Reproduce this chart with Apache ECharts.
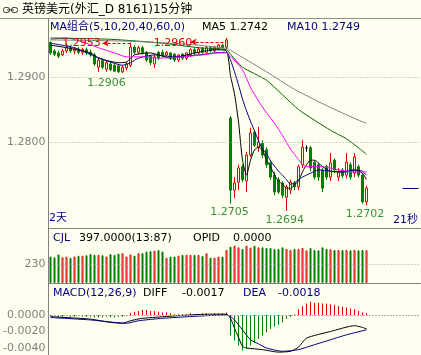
<!DOCTYPE html>
<html>
<head>
<meta charset="utf-8">
<title>英镑美元 15分钟</title>
<script src="https://cdn.jsdelivr.net/npm/echarts@6/dist/echarts.min.js"></script>
<style>
html, body { margin: 0; padding: 0; background: #fffff0; }
#main { width: 421px; height: 355px; }
</style>
</head>
<body>
<div id="main"></div>
<script>
// 15分钟K线, 共93个位置, 前80根有数据
var slotCount = 93;
var slots = [];
for (var s = 0; s < slotCount; s++) slots.push(String(s));

// [开, 收, 低, 高]
var candles = [
    [1.2953,1.2937,1.2934,1.2955],[1.2940,1.2935,1.2932,1.2943],[1.2937,1.2932,1.2929,1.2940],[1.2934,1.2940,1.2932,1.2943],
    [1.2940,1.2945,1.2937,1.2952],[1.2945,1.2940,1.2937,1.2948],[1.2940,1.2943,1.2935,1.2946],[1.2943,1.2938,1.2935,1.2946],
    [1.2938,1.2942,1.2934,1.2945],[1.2942,1.2937,1.2934,1.2945],[1.2938,1.2934,1.2931,1.2942],[1.2934,1.2920,1.2917,1.2937],
    [1.2915,1.2926,1.2908,1.2929],[1.2925,1.2915,1.2912,1.2928],[1.2912,1.2922,1.2908,1.2925],[1.2920,1.2911,1.2909,1.2923],
    [1.2918,1.2909,1.2908,1.2920],[1.2917,1.2908,1.2906,1.2920],[1.2908,1.2915,1.2906,1.2918],[1.2914,1.2920,1.2910,1.2923],
    [1.2918,1.2946,1.2915,1.2953],[1.2946,1.2938,1.2935,1.2949],[1.2938,1.2945,1.2935,1.2948],[1.2945,1.2937,1.2934,1.2948],
    [1.2938,1.2926,1.2923,1.2940],[1.2932,1.2922,1.2918,1.2934],[1.2920,1.2931,1.2914,1.2934],[1.2938,1.2929,1.2926,1.2940],
    [1.2938,1.2934,1.2931,1.2942],[1.2934,1.2938,1.2931,1.2940],[1.2937,1.2929,1.2926,1.2938],[1.2935,1.2926,1.2923,1.2937],
    [1.2926,1.2934,1.2923,1.2935],[1.2935,1.2929,1.2926,1.2937],[1.2929,1.2937,1.2926,1.2938],[1.2934,1.2942,1.2931,1.2944],
    [1.2942,1.2937,1.2934,1.2945],[1.2937,1.2943,1.2935,1.2946],[1.2944,1.2938,1.2936,1.2946],[1.2938,1.2945,1.2937,1.2948],
    [1.2945,1.2940,1.2938,1.2947],[1.2940,1.2946,1.2938,1.2948],[1.2943,1.2949,1.2941,1.2951],[1.2949,1.2945,1.2943,1.2951],
    [1.2946,1.2957,1.2943,1.2960],
    [1.2837,1.2726,1.2705,1.2840],[1.2726,1.2737,1.2714,1.2746],[1.2738,1.2760,1.2726,1.2765],[1.2762,1.2742,1.2738,1.2765],
    [1.2740,1.2780,1.2723,1.2785],[1.2780,1.2814,1.2777,1.2822],[1.2815,1.2795,1.2792,1.2818],[1.2792,1.2800,1.2785,1.2823],
    [1.2798,1.2780,1.2775,1.2803],[1.2788,1.2765,1.2760,1.2792],[1.2768,1.2746,1.2742,1.2772],[1.2749,1.2723,1.2718,1.2754],
    [1.2742,1.2723,1.2720,1.2746],[1.2737,1.2718,1.2714,1.2740],[1.2715,1.2731,1.2694,1.2734],[1.2726,1.2738,1.2720,1.2742],
    [1.2737,1.2731,1.2726,1.2740],[1.2731,1.2762,1.2726,1.2765],[1.2765,1.2792,1.2760,1.2803],[1.2791,1.2791,1.2785,1.2795],
    [1.2791,1.2760,1.2755,1.2794],[1.2769,1.2746,1.2742,1.2772],[1.2765,1.2746,1.2740,1.2768],[1.2757,1.2729,1.2723,1.2760],
    [1.2762,1.2746,1.2742,1.2765],[1.2746,1.2768,1.2740,1.2783],[1.2772,1.2757,1.2752,1.2775],[1.2746,1.2754,1.2740,1.2760],
    [1.2757,1.2748,1.2744,1.2760],[1.2749,1.2769,1.2744,1.2783],[1.2765,1.2746,1.2742,1.2769],[1.2752,1.2777,1.2746,1.2783],
    [1.2762,1.2749,1.2745,1.2765],[1.2749,1.2708,1.2705,1.2752],[1.2708,1.2729,1.2702,1.2732]
];

// 成交量 CJL
var volumes = [
    320,310,345,312,318,305,320,330,330,335,350,340,340,335,320,350,340,355,360,320,
    345,330,360,360,380,385,390,400,380,305,320,320,330,340,340,340,340,339,326,359,
    306,306,318,318,399,439,451,431,411,451,428,451,431,431,423,423,411,411,431,411,
    399,411,411,423,395,423,399,395,431,411,408,399,399,399,399,395,400,395,399,397
];

// 均线 [位置, 数值]
var ma5 = [[0,1.2949],[5,1.2944],[10,1.2937],[12,1.2929],[15,1.2924],[17,1.2922],[19,1.2923],[21,1.2934],[25,1.2937],
    [27,1.2934],[30,1.2929],[34,1.2934],[37,1.2938],[41,1.2942],[44,1.2940],[45,1.2902],[46,1.2874],[47,1.2831],
    [48,1.2772],[49,1.2749],[50,1.2772],[51,1.2788],[52,1.2792],[53,1.2788],[54,1.2772],[55,1.2762],[56,1.2749],
    [57,1.2740],[58,1.2735],[59,1.2729],[60,1.2729],[61,1.2734],[62,1.2740],[63,1.2754],[64,1.2765],[65,1.2772],
    [66,1.2772],[67,1.2768],[68,1.2762],[70,1.2755],[72,1.2754],[74,1.2754],[76,1.2757],[78,1.2752],[79,1.2742]];
var ma10 = [[0,1.2952],[6,1.2945],[11,1.2932],[15,1.2923],[18,1.2918],[20,1.2922],[22,1.2929],[26,1.2934],[31,1.2931],
    [37,1.2934],[41,1.2937],[44,1.2938],[45,1.2926],[46,1.2908],[47,1.2888],[48,1.2866],[49,1.2848],[50,1.2832],
    [51,1.2817],[52,1.2802],[53,1.2789],[54,1.2782],[55,1.2771],[56,1.2763],[57,1.2755],[58,1.2749],[59,1.2742],
    [60,1.2735],[61,1.2737],[62,1.2742],[63,1.2746],[65,1.2752],[67,1.2757],[70,1.2755],[73,1.2754],[76,1.2757],
    [78,1.2755],[79,1.2749]];
var ma20 = [[0,1.2958],[4,1.2960],[8,1.2954],[12,1.2945],[16,1.2937],[19,1.2931],[24,1.2931],[27,1.2929],[33,1.2931],
    [38,1.2934],[42,1.2937],[44,1.2937],[45,1.2932],[48,1.2911],[50,1.2884],[52,1.2863],[54,1.2845],[56,1.2829],
    [58,1.2810],[60,1.2789],[62,1.2773],[63,1.2765],[64,1.2762],[68,1.2762],[72,1.2757],[76,1.2754],[79,1.2754]];
var ma40 = [[0,1.2960],[15,1.2958],[28,1.2952],[37,1.2945],[44,1.2942],[45,1.2935],[48,1.2915],[54,1.2895],
    [62,1.2850],[70,1.2818],[74,1.2805],[77,1.2791],[79,1.2781]];
var ma60 = [[0,1.2957],[20,1.2955],[35,1.2950],[44,1.2944],[45,1.2941],[54,1.2908],[61,1.2881],[70,1.2853],
    [78,1.2831],[79,1.2829]];

// MACD(12,26,9)
var macdHist = [
    -0.0001,-0.0001,-0.0002,-0.0002,-0.0001,-0.0002,-0.0002,-0.0001,-0.0002,-0.0002,
    -0.0002,-0.0003,-0.0003,-0.0003,-0.0002,-0.0003,-0.0003,-0.0002,-0.0002,-0.0001,
    0.0002,0.0004,0.0005,0.0006,0.0006,0.0005,0.0005,0.0004,0.0003,0.0003,
    0.0002,0.0001,0.0001,0.0001,0.0001,0.0002,0.0001,0.0001,0.0002,0.0002,
    0.0001,0.0002,0.0002,0.0002,0.0003,
    -0.0025,-0.0031,-0.0037,-0.0043,-0.0041,-0.0037,-0.0033,-0.0029,-0.0025,-0.0021,
    -0.0017,-0.0014,-0.0012,-0.0009,-0.0005,-0.0002,0.0001,0.0007,0.0011,0.0014,
    0.0016,0.0015,0.0015,0.0014,0.0014,0.0013,0.0012,0.0011,0.0010,0.0009,
    0.0008,0.0007,0.0005,0.0003,0.0002
];
var diffLine = [[0,-0.0002],[10,-0.0005],[15,-0.0009],[18,-0.0010],[20,-0.0007],[23,-0.0004],[40,0.0001],[44,0.0001],
    [45,-0.0004],[46,-0.0016],[47,-0.0027],[48,-0.0038],[49,-0.0040],[53,-0.0042],[57,-0.0045],[60,-0.0044],
    [62,-0.0039],[64,-0.0028],[70,-0.0020],[76,-0.0013],[78,-0.0015],[79,-0.0017]];
var deaLine = [[0,-0.0003],[10,-0.0006],[16,-0.0009],[19,-0.0010],[22,-0.0007],[28,-0.0004],[44,0.0000],
    [45,-0.0002],[46,-0.0006],[48,-0.0018],[50,-0.0030],[52,-0.0035],[54,-0.0040],[58,-0.0044],[62,-0.0042],
    [66,-0.0036],[70,-0.0030],[74,-0.0024],[79,-0.0018]];

var priceTicks = [1.28, 1.29];
var volTicks = [230];
var macdTicks = [0, -0.002, -0.004];

// 高点标记: 位置, 价格, 虚线起点
var highMarks = [[20, 1.2953, 13], [44, 1.2960, 35]];
// 低点标记
var lowMarks = [[17, 1.2906], [45, 1.2705], [59, 1.2694], [79, 1.2702]];

var bg = '#fffff0';
var upColor = '#e00000';
var downColor = '#008000';
var font = '"DejaVu Sans", "Noto Sans CJK SC", sans-serif';

var myChart = echarts.init(document.getElementById('main'), null, { renderer: 'canvas' });

var highOffsets = [[-49, 1], [-53.5, 5.5]];
var highLineLevels = [1.2952, 1.2954];
var lowOffsets = [[-12, 10], [-1, 8.7], [-1.7, 9], [-1.4, 8.3]];

var markPointData = [];
highMarks.forEach(function (m, k) {
    markPointData.push({
        coord: [m[0], m[1]],
        label: { formatter: m[1].toFixed(4), color: upColor, offset: highOffsets[k] }
    });
});
lowMarks.forEach(function (m, k) {
    markPointData.push({
        coord: [m[0], m[1]],
        label: { formatter: m[1].toFixed(4), color: '#3a8f3a', offset: lowOffsets[k] }
    });
});

var lastClose = candles[candles.length - 1][1];
var candleLines = highMarks.map(function (m, k) {
    return [
        { coord: [m[2], highLineLevels[k]], symbol: 'arrow', symbolSize: [5, 6] },
        { coord: [m[0], highLineLevels[k]], symbol: 'none' }
    ];
});
candleLines.push([
    { coord: [88, lastClose], symbol: 'none', lineStyle: { color: '#000080', type: 'solid' } },
    { coord: [92, lastClose], symbol: 'none' }
]);

var volData = volumes.map(function (v, i) {
    var up = candles[i][1] >= candles[i][0];
    return { value: v, itemStyle: { color: up ? bg : downColor, borderColor: up ? upColor : downColor, borderWidth: 1 } };
});
var histData = macdHist.map(function (v) {
    return { value: v, itemStyle: { color: v >= 0 ? upColor : downColor } };
});

var dotted = { color: '#a8a8a8', type: [1, 2], width: 1 };
function gridLines(values) {
    return {
        silent: true, symbol: 'none', label: { show: false }, lineStyle: dotted,
        data: values.map(function (v) { return { yAxis: v }; })
    };
}

function maSeries(name, data, color) {
    return {
        type: 'line', name: name, data: data, xAxisIndex: 0, yAxisIndex: 0,
        showSymbol: false, smooth: 0.2, silent: true,
        lineStyle: { color: color, width: 1 }
    };
}

function xAxisFor(idx, showLine) {
    return {
        type: 'category', gridIndex: idx, data: slots, boundaryGap: true,
        axisLine: { show: showLine, lineStyle: { color: '#808080' } },
        axisTick: { show: false }, axisLabel: { show: false }, splitLine: { show: false }
    };
}
function yAxisFor(idx, min, max, ticks, fmt) {
    return {
        type: 'value', gridIndex: idx, min: min, max: max,
        axisLine: { show: true, lineStyle: { color: '#808080' } },
        axisTick: { show: false },
        splitLine: { show: false },
        axisLabel: {
            customValues: ticks, formatter: fmt, color: '#808080',
            fontSize: 11, fontFamily: font, margin: 3
        }
    };
}

function txt(x, y, text, color, size) {
    return {
        type: 'text', x: x, y: y, silent: true,
        style: { text: text, fill: color, font: (size || 11) + 'px ' + font, verticalAlign: 'middle' }
    };
}

// 每根K线占4像素, 中心落在半像素上使空心线条清晰
option = {
    animation: false,
    backgroundColor: bg,
    grid: [
        { left: 48.5, right: 0.5, top: 19, height: 209 },
        { left: 48.5, right: 0.5, top: 228, height: 55 },
        { left: 48.5, right: 0.5, top: 283, height: 72 }
    ],
    xAxis: [xAxisFor(0, true), xAxisFor(1, true), xAxisFor(2, false)],
    yAxis: [
        yAxisFor(0, 1.26677, 1.29892, priceTicks, function (v) { return v.toFixed(4); }),
        yAxisFor(1, 0, 665, volTicks, function (v) { return String(v); }),
        yAxisFor(2, -0.00485, 0.00388, macdTicks, function (v) { return v.toFixed(4); })
    ],
    graphic: [
        { type: 'line', silent: true, shape: { x1: 0, y1: 18.5, x2: 421, y2: 18.5 }, style: { stroke: '#909090', lineWidth: 1 } },
        { type: 'rect', silent: true, shape: { x: 3.5, y: 7.5, width: 6, height: 5, r: 2 }, style: { fill: 'none', stroke: '#333', lineWidth: 1 } },
        { type: 'rect', silent: true, shape: { x: 11.5, y: 7.5, width: 6, height: 5, r: 2 }, style: { fill: 'none', stroke: '#333', lineWidth: 1 } },
        { type: 'line', silent: true, shape: { x1: 7, y1: 10, x2: 14, y2: 10 }, style: { stroke: '#333', lineWidth: 1 } },
        txt(22, 10, '英镑美元(外汇_D 8161)15分钟', '#000000', 12),
        txt(50, 27, 'MA组合(5,10,20,40,60,0)', '#000080'),
        txt(202, 27, 'MA5 1.2742', '#000000'),
        txt(287, 27, 'MA10 1.2749', '#000080'),
        txt(49, 218.5, '2天', '#000080'),
        txt(393, 220, '21秒', '#000080'),
        txt(53, 238, 'CJL', '#000080'),
        txt(79, 238, '397.0000(13:87)', '#000000'),
        txt(193, 238, 'OPID', '#000000'),
        txt(233, 238, '0.0000', '#000000'),
        txt(53, 293, 'MACD(12,26,9)', '#000080'),
        txt(143, 293, 'DIFF', '#000000'),
        txt(182, 293, '-0.0017', '#000000'),
        txt(243, 293, 'DEA', '#000080'),
        txt(278, 293, '-0.0018', '#000080')
    ],
    series: [
        {
            type: 'candlestick', name: 'K线', data: candles, xAxisIndex: 0, yAxisIndex: 0,
            barWidth: 2, silent: true,
            itemStyle: {
                color: bg, color0: downColor, borderColor: upColor, borderColor0: downColor,
                borderColorDoji: '#000000', borderWidth: 1
            },
            markPoint: {
                silent: true, symbol: 'circle', symbolSize: 0,
                label: { show: true, position: 'inside', fontSize: 11, fontFamily: font },
                data: markPointData
            },
            markLine: {
                silent: true, label: { show: false },
                lineStyle: { color: upColor, type: [3, 2], width: 1 },
                data: candleLines
            }
        },
        maSeries('MA5', ma5, '#000000'),
        maSeries('MA10', ma10, '#000080'),
        maSeries('MA20', ma20, '#ff00ff'),
        maSeries('MA40', ma40, '#006400'),
        Object.assign(maSeries('MA60', ma60, '#808080'), { markLine: gridLines(priceTicks) }),
        {
            type: 'bar', name: 'CJL', data: volData, xAxisIndex: 1, yAxisIndex: 1,
            barWidth: 2, silent: true,
            markLine: gridLines(volTicks)
        },
        {
            type: 'bar', name: 'MACD', data: histData, xAxisIndex: 2, yAxisIndex: 2,
            barWidth: 1, silent: true,
            markLine: gridLines(macdTicks)
        },
        {
            type: 'line', name: 'DIFF', data: diffLine, xAxisIndex: 2, yAxisIndex: 2,
            showSymbol: false, smooth: 0.2, silent: true, lineStyle: { color: '#000000', width: 1 }
        },
        {
            type: 'line', name: 'DEA', data: deaLine, xAxisIndex: 2, yAxisIndex: 2,
            showSymbol: false, smooth: 0.2, silent: true, lineStyle: { color: '#000080', width: 1 }
        }
    ]
};

myChart.setOption(option);
</script>
</body>
</html>
